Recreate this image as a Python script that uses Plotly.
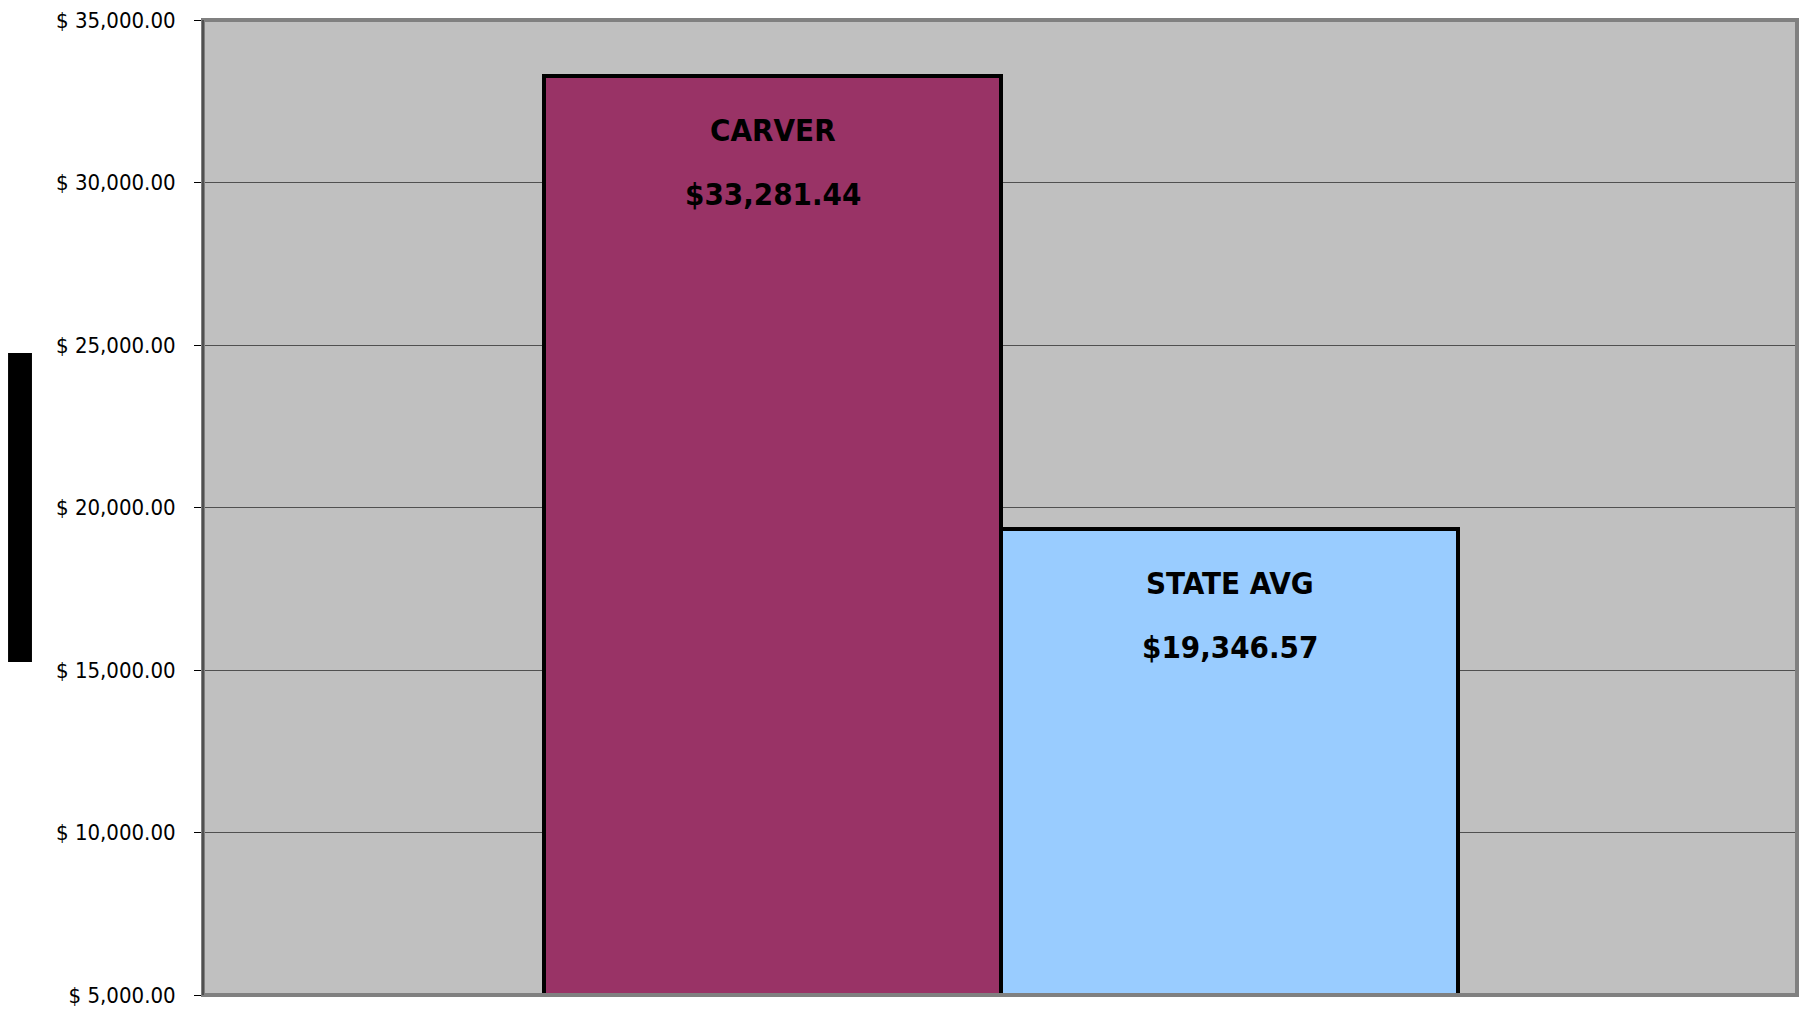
import plotly.graph_objects as go

# Data
categories = ["CARVER", "STATE AVG"]
values = [33281.44, 19346.57]
value_labels = ["$33,281.44", "$19,346.57"]
bar_colors = ["#993366", "#99CCFF"]
y_ticks = [5000, 10000, 15000, 20000, 25000, 30000, 35000]
y_tick_text = ["$ {:,.2f}".format(v) for v in y_ticks]

FONT = "DejaVu Sans Condensed, Liberation Sans Narrow, Arial Narrow, sans-serif"

x_pos = list(range(len(categories)))

fig = go.Figure()
fig.add_trace(go.Bar(
    x=x_pos,
    y=[v - 5000 for v in values],
    base=5000,
    width=1,
    marker=dict(color=bar_colors, line=dict(color="black", width=4)),
    hoverinfo="skip",
    showlegend=False,
))

annotations = []
for xp, cat, v, lab in zip(x_pos, categories, values, value_labels):
    annotations.append(dict(x=xp, y=v, xref="x", yref="y", text="<b>%s</b>" % cat,
                            showarrow=False, yanchor="middle", yshift=-54,
                            font=dict(family=FONT, size=31, color="black")))
    annotations.append(dict(x=xp, y=v, xref="x", yref="y", text="<b>%s</b>" % lab,
                            showarrow=False, yanchor="middle", yshift=-118,
                            font=dict(family=FONT, size=31, color="black")))

# page body has an 8px margin; compensate so the plot area lands at the right spot
fig.update_layout(
    width=1805, height=1009,
    margin=dict(l=195, r=16, t=12, b=22, autoexpand=False),
    paper_bgcolor="white",
    plot_bgcolor="#C0C0C0",
    bargap=0,
    annotations=annotations,
    shapes=[
        dict(type="rect", xref="paper", yref="paper", x0=0, x1=1, y0=0, y1=1,
             line=dict(color="#808080", width=4), layer="above"),
        dict(type="line", xref="paper", yref="paper", x0=0, x1=0, y0=0, y1=1,
             line=dict(color="#404040", width=1.5), layer="above"),
        dict(type="rect", xref="paper", yref="paper", x0=-0.1223, x1=-0.1073,
             y0=0.3415, y1=0.6585, fillcolor="black", line=dict(width=0)),
    ],
    xaxis=dict(range=[-1.247, 2.241], showticklabels=False, showgrid=False,
               zeroline=False, ticks="", fixedrange=True, automargin=False),
    yaxis=dict(range=[5000, 35000], tickvals=y_ticks, ticktext=y_tick_text,
               showgrid=True, gridcolor="#505050", gridwidth=1,
               zeroline=False, ticks="outside", ticklen=8, tickcolor="black",
               tickwidth=1, ticklabelstandoff=14, ticklabeloverflow="allow",
               automargin=False,
               tickfont=dict(family=FONT, size=22, color="black")),
)

fig.write_html("out.html")
